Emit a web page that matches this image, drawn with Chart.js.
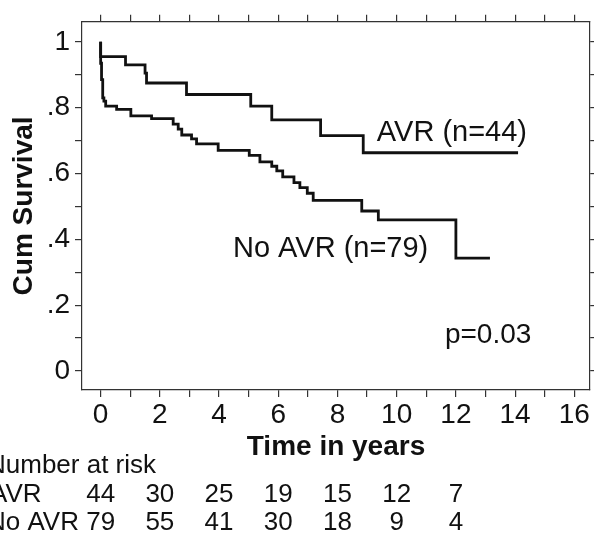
<!DOCTYPE html>
<html>
<head>
<meta charset="utf-8">
<script src="https://cdn.jsdelivr.net/npm/chart.js@4.4.1/dist/chart.umd.min.js"></script>
<style>
  html, body { margin: 0; padding: 0; background: #fff; }
</style>
</head>
<body>
<canvas id="myChart" width="594" height="533"></canvas>
<script>
// Kaplan-Meier steps (time in years, cum survival)
const avrTimes = [0, 0, 0.84, 1.50, 1.55, 2.90, 5.07, 5.78, 7.43, 8.87, 14.1];
const avrSurv = [1, 0.955, 0.930, 0.905, 0.875, 0.840, 0.805, 0.763, 0.715, 0.663, 0.663];

const noAvrTimes = [0, 0, 0.03, 0.07, 0.11, 0.17, 0.54, 1.02, 1.72, 2.45, 2.62, 2.74, 3.07, 3.24,
    3.97, 5.02, 5.38, 5.78, 5.95, 6.15, 6.53, 6.73, 6.98, 7.18, 8.82, 9.38, 12.0, 13.15];
const noAvrSurv = [1, 0.935, 0.885, 0.830, 0.820, 0.805, 0.795, 0.775, 0.767, 0.750, 0.735, 0.717, 0.705, 0.690,
    0.670, 0.655, 0.635, 0.622, 0.608, 0.590, 0.572, 0.557, 0.540, 0.518, 0.486, 0.459, 0.343, 0.343];

// number at risk table
const riskTimes = [0, 2, 4, 6, 8, 10, 12];
const riskAvr = [44, 30, 25, 19, 15, 12, 7];
const riskNoAvr = [79, 55, 41, 30, 18, 9, 4];

const xTicks = [0, 1, 2, 3, 4, 5, 6, 7, 8, 9, 10, 11, 12, 13, 14, 15, 16];
const yTicks = [0, 0.1, 0.2, 0.3, 0.4, 0.5, 0.6, 0.7, 0.8, 0.9, 1];

const FONT = "'Liberation Sans', Arial, Helvetica, sans-serif";
Chart.defaults.font.family = FONT;
Chart.defaults.color = '#111';

function toPoints(times, surv) {
    return times.map((t, i) => ({ x: t, y: surv[i] }));
}

function yLabel(v) {
    const n = Math.round(v * 10);
    if (n % 2 !== 0) return '';
    if (n === 0) return '0';
    if (n === 10) return '1';
    return '.' + n;
}

const X_MIN = -0.63, X_MAX = 16.53;
const Y_MIN = -0.058, Y_MAX = 1.061;

const gridOpts = { drawOnChartArea: false, drawTicks: true, tickLength: 7, color: '#333', lineWidth: 1.2 };
const borderOpts = { display: true, color: '#333', width: 1.2 };

const textPlugin = {
    id: 'kmText',
    afterDraw(chart) {
        const { ctx } = chart;
        const x = chart.scales.x, y = chart.scales.y;
        ctx.save();
        ctx.fillStyle = '#111';
        ctx.textBaseline = 'alphabetic';
        ctx.textAlign = 'left';
        ctx.font = '29px ' + FONT;
        ctx.fillText('AVR (n=44)', x.getPixelForValue(9.33), y.getPixelForValue(0.700));
        ctx.fillText('No AVR (n=79)', x.getPixelForValue(4.47), y.getPixelForValue(0.346));
        ctx.font = '28px ' + FONT;
        ctx.fillText('p=0.03', x.getPixelForValue(11.63), y.getPixelForValue(0.086));

        ctx.font = '26px ' + FONT;
        ctx.fillText('Number at risk', -13, 473);
        ctx.fillText('AVR', -10, 502);
        ctx.fillText('No AVR', -13, 530);
        ctx.textAlign = 'center';
        riskTimes.forEach((t, i) => {
            const px = x.getPixelForValue(t);
            ctx.fillText(String(riskAvr[i]), px, 502);
            ctx.fillText(String(riskNoAvr[i]), px, 530);
        });
        ctx.restore();
    }
};

const config = {
    type: 'scatter',
    data: {
        datasets: [
            {
                label: 'AVR',
                data: toPoints(avrTimes, avrSurv),
                showLine: true,
                stepped: true,
                borderColor: '#111',
                borderWidth: 2.8,
                pointRadius: 0,
                fill: false
            },
            {
                label: 'No AVR',
                data: toPoints(noAvrTimes, noAvrSurv),
                showLine: true,
                stepped: true,
                borderColor: '#111',
                borderWidth: 2.8,
                pointRadius: 0,
                fill: false
            }
        ]
    },
    options: {
        responsive: false,
        animation: false,
        devicePixelRatio: 1,
        layout: { padding: { top: 9, right: 0, bottom: 0, left: 0 } },
        plugins: { legend: { display: false }, tooltip: { enabled: false } },
        scales: {
            x: {
                type: 'linear', position: 'bottom', min: X_MIN, max: X_MAX,
                afterBuildTicks: s => { s.ticks = xTicks.map(v => ({ value: v })); },
                afterFit: s => { s.height = 143; },
                grid: gridOpts, border: borderOpts,
                ticks: { padding: 1, autoSkip: false, maxRotation: 0, font: { size: 28 },
                    callback: v => (v % 2 === 0 ? String(v) : '') },
                title: { display: true, text: 'Time in years', font: { size: 28, weight: 'bold' },
                    padding: { top: 0, bottom: 69 } }
            },
            x2: {
                type: 'linear', position: 'top', min: X_MIN, max: X_MAX,
                afterBuildTicks: s => { s.ticks = xTicks.map(v => ({ value: v })); },
                afterFit: s => { s.height = 7; },
                grid: gridOpts, border: borderOpts,
                ticks: { display: false }
            },
            y: {
                type: 'linear', position: 'left', min: Y_MIN, max: Y_MAX,
                afterBuildTicks: s => { s.ticks = yTicks.map(v => ({ value: v })); },
                afterFit: s => { s.width = 82; },
                grid: gridOpts, border: borderOpts,
                ticks: { padding: 5, autoSkip: false, font: { size: 28 }, callback: yLabel },
                title: { display: true, text: 'Cum Survival', font: { size: 28, weight: 'bold' },
                    padding: { top: 7, bottom: 0 } }
            },
            y2: {
                type: 'linear', position: 'right', min: Y_MIN, max: Y_MAX,
                afterBuildTicks: s => { s.ticks = yTicks.map(v => ({ value: v })); },
                afterFit: s => { s.width = 4; },
                grid: gridOpts, border: borderOpts,
                ticks: { display: false }
            }
        }
    },
    plugins: [textPlugin]
};

const myChart = new Chart(document.getElementById('myChart'), config);
</script>
</body>
</html>
